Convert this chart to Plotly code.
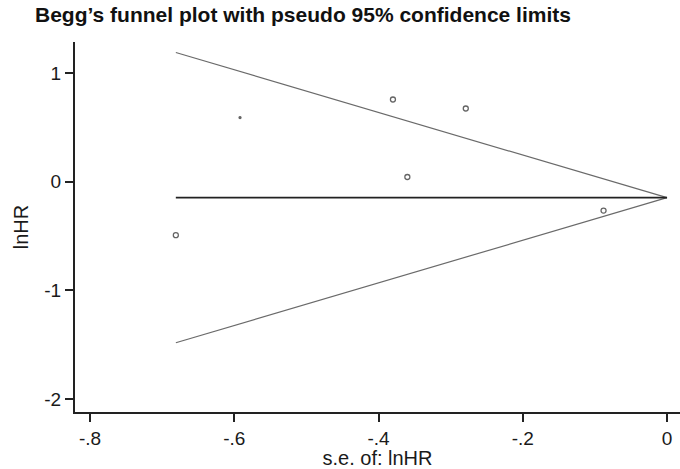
import plotly.graph_objects as go

# Study estimates (x = s.e. axis value as drawn, y = lnHR)
study_se = [-0.681, -0.592, -0.380, -0.360, -0.279, -0.088]
study_lnhr = [-0.492, 0.590, 0.756, 0.043, 0.673, -0.266]
study_symbol = ["circle-open", "circle", "circle-open", "circle-open", "circle-open", "circle-open"]
study_size = [5, 2, 5, 5, 5, 5]

# Pooled estimate line and pseudo 95% limits
pooled_x = [-0.681, 0.0]
pooled_y = [-0.147, -0.147]
limit_x = [-0.681, 0.0]
upper_y = [1.188, -0.147]
lower_y = [-1.482, -0.147]

x_ticks = [-0.8, -0.6, -0.4, -0.2, 0]
x_tick_text = ["-.8", "-.6", "-.4", "-.2", "0"]
y_ticks = [1, 0, -1, -2]
y_tick_text = ["1", "0", "-1", "-2"]

FONT = "Liberation Sans, Arial, sans-serif"

fig = go.Figure()
fig.add_trace(go.Scatter(x=limit_x, y=upper_y, mode="lines",
                         line=dict(color="#6a6a6a", width=1.2), hoverinfo="skip"))
fig.add_trace(go.Scatter(x=limit_x, y=lower_y, mode="lines",
                         line=dict(color="#6a6a6a", width=1.2), hoverinfo="skip"))
fig.add_trace(go.Scatter(x=pooled_x, y=pooled_y, mode="lines",
                         line=dict(color="#222222", width=1.6), hoverinfo="skip"))
fig.add_trace(go.Scatter(x=study_se, y=study_lnhr, mode="markers",
                         marker=dict(symbol=study_symbol, size=study_size,
                                     color="#222222", line=dict(color="#222222", width=1.3))))

fig.update_layout(
    width=680, height=469,
    margin=dict(l=75, r=0, t=42, b=57),
    paper_bgcolor="white", plot_bgcolor="white",
    showlegend=False,
    font=dict(family=FONT, color="#1a1a1a", size=19),
    title=dict(text="<b>Begg’s funnel plot with pseudo 95% confidence limits</b>",
               x=35 / 680, xanchor="left", y=1 - 15 / 469, yanchor="middle",
               font=dict(family=FONT, size=21, color="#111111")),
    xaxis=dict(range=[-0.8208, 0.018], tickvals=x_ticks, ticktext=x_tick_text,
               showgrid=False, zeroline=False, showline=True, linecolor="#222222",
               linewidth=2, ticks="outside", ticklen=8, tickwidth=1.5, tickcolor="#222222",
               tickfont=dict(size=19),
               title=dict(text="s.e. of: lnHR", font=dict(size=20), standoff=0)),
    yaxis=dict(range=[-2.119, 1.285], tickvals=y_ticks, ticktext=y_tick_text,
               showgrid=False, zeroline=False, showline=True, linecolor="#222222",
               linewidth=2, ticks="outside", ticklen=8, tickwidth=1.5, tickcolor="#222222",
               tickfont=dict(size=19),
               title=dict(text="lnHR", font=dict(size=20), standoff=10)),
)

fig.write_html("out.html")
